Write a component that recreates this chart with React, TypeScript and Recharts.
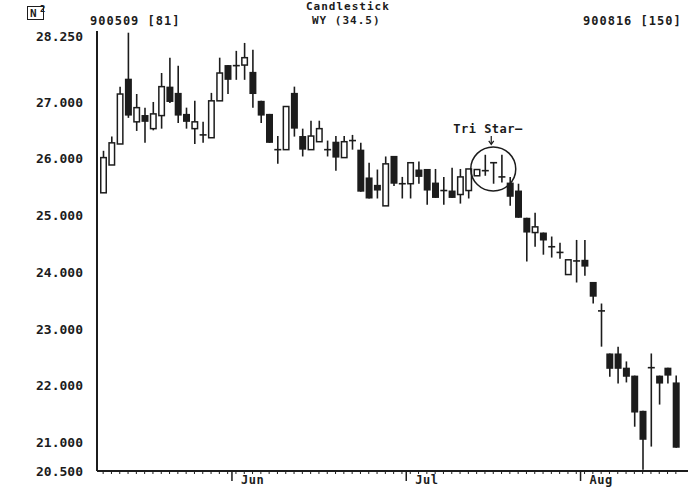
import React from "react";
import { ComposedChart, Bar, XAxis, YAxis, ReferenceDot } from "recharts";

const dates = [
  "900509","900510","900511","900514","900515","900516","900517","900518","900521","900522",
  "900523","900524","900525","900529","900530","900531","900601","900604","900605","900606",
  "900607","900608","900611","900612","900613","900614","900615","900618","900619","900620",
  "900621","900622","900625","900626","900627","900628","900629","900702","900703","900705",
  "900706","900709","900710","900711","900712","900713","900716","900717","900718","900719",
  "900720","900723","900724","900725","900726","900727","900730","900731","900801","900802",
  "900803","900806","900807","900808","900809","900810","900813","900814","900815","900816",
];
const opens = [
  25.40, 25.89, 26.26, 27.41, 26.65, 26.77, 26.53, 26.76, 27.27, 27.16,
  26.79, 26.53, 26.42, 26.37, 27.02, 27.65, 27.64, 27.65, 27.53, 27.02,
  26.79, 26.16, 26.16, 27.16, 26.40, 26.16, 26.30, 26.16, 26.30, 26.02,
  26.32, 26.16, 25.67, 25.54, 25.17, 26.05, 25.56, 25.56, 25.81, 25.82,
  25.58, 25.44, 25.44, 25.37, 25.44, 25.70, 25.79, 25.93, 25.68, 25.58,
  25.44, 24.96, 24.70, 24.70, 24.45, 24.35, 23.96, 24.20, 24.22, 23.83,
  23.32, 22.57, 22.57, 22.32, 22.18, 21.56, 22.32, 22.18, 22.32, 22.06,
];
const highs = [
  26.14, 26.39, 27.27, 28.22, 27.14, 26.90, 27.00, 27.51, 27.78, 27.64,
  26.90, 27.02, 26.65, 27.16, 27.78, 27.65, 27.90, 28.04, 27.92, 27.02,
  26.79, 26.40, 26.92, 27.27, 26.53, 26.67, 26.67, 26.32, 26.40, 26.40,
  26.42, 26.28, 25.93, 25.81, 26.04, 26.05, 25.68, 25.93, 25.95, 25.82,
  25.82, 25.68, 25.84, 25.82, 25.82, 25.81, 26.07, 25.93, 26.07, 25.68,
  25.56, 24.96, 25.05, 24.70, 24.63, 24.52, 24.22, 24.57, 24.57, 23.83,
  23.45, 22.57, 22.69, 22.43, 22.18, 21.56, 22.57, 22.18, 22.32, 22.18,
];
const lows = [
  25.40, 25.89, 26.26, 26.72, 26.49, 26.28, 26.50, 26.53, 26.98, 26.63,
  26.53, 26.26, 26.28, 26.37, 27.02, 27.14, 27.39, 27.39, 26.90, 26.63,
  26.28, 25.91, 26.16, 26.39, 26.04, 26.16, 26.30, 26.04, 25.79, 26.02,
  26.16, 25.42, 25.30, 25.30, 25.17, 25.52, 25.30, 25.30, 25.56, 25.19,
  25.31, 25.19, 25.31, 25.21, 25.30, 25.70, 25.70, 25.56, 25.58, 25.17,
  24.96, 24.19, 24.45, 24.31, 24.26, 24.24, 23.96, 23.82, 23.94, 23.45,
  22.69, 22.16, 22.04, 22.06, 21.28, 20.52, 20.93, 21.67, 22.04, 20.91,
];
const closes = [
  26.02, 26.28, 27.14, 26.76, 26.90, 26.65, 26.79, 27.27, 27.00, 26.76,
  26.65, 26.65, 26.42, 27.02, 27.51, 27.39, 27.64, 27.78, 27.14, 26.76,
  26.28, 26.16, 26.92, 26.53, 26.16, 26.40, 26.53, 26.16, 26.02, 26.30,
  26.32, 25.42, 25.30, 25.44, 25.91, 25.56, 25.56, 25.93, 25.68, 25.44,
  25.31, 25.44, 25.31, 25.68, 25.82, 25.81, 25.79, 25.93, 25.68, 25.33,
  24.96, 24.70, 24.80, 24.56, 24.45, 24.35, 24.22, 24.20, 24.10, 23.57,
  23.32, 22.30, 22.30, 22.16, 21.53, 21.05, 22.32, 22.04, 22.18, 20.91,
];
const yTicks = [20.5, 21, 22, 23, 24, 25, 26, 27, 28.25];
const monthStarts = ["900601", "900702", "900801"];
const monthLabels = ["Jun", "Jul", "Aug"];
const triStarDate = "900717";
const triStarLevel = 25.82;
const triStarText = "Tri Star\u2014";

const data = dates.map((d, i) => ({
  d,
  open: opens[i],
  high: highs[i],
  low: lows[i],
  close: closes[i],
}));

const INK = "#1c1c1c";
const FONT = "'DejaVu Sans Mono', 'Liberation Mono', monospace";

const Candle = (props: any) => {
  const { x, y, width, height, payload } = props;
  if (!payload) return null;
  const top = Math.min(y, y + height);
  const h = Math.abs(height);
  const range = payload.high - payload.low;
  const ratio = range > 0 ? h / range : 0;
  const yO = top + (payload.high - payload.open) * ratio;
  const yC = top + (payload.high - payload.close) * ratio;
  const cx = x + width / 2;
  const bTop = Math.min(yO, yC);
  const bH = Math.abs(yO - yC);
  const up = payload.close > payload.open;
  const down = payload.close < payload.open;
  return (
    <g>
      <line x1={cx} x2={cx} y1={top} y2={top + h} stroke={INK} strokeWidth={1.6} />
      {up && (
        <rect x={x + 0.75} y={bTop} width={width - 1.5} height={bH} fill="#fff" stroke={INK} strokeWidth={1.5} />
      )}
      {down && <rect x={x} y={bTop} width={width} height={Math.max(bH, 1.5)} fill={INK} />}
      {!up && !down && (
        <line x1={x} x2={x + width} y1={yO} y2={yO} stroke={INK} strokeWidth={1.6} />
      )}
    </g>
  );
};

const XTick = (props: any) => {
  const { x, y, payload } = props;
  const idx = monthStarts.indexOf(payload.value);
  return (
    <g>
      <line x1={x} x2={x} y1={y + 1} y2={y + 3} stroke={INK} strokeWidth={1} />
      {idx >= 0 && (
        <g>
          <line x1={x - 4} x2={x - 4} y1={y + 1} y2={y + 10} stroke={INK} strokeWidth={1.5} />
          <text x={x + 5} y={y + 13} fontFamily={FONT} fontWeight="bold" fontSize={12} fill={INK} letterSpacing={0.5}>
            {monthLabels[idx]}
          </text>
        </g>
      )}
    </g>
  );
};

const YTick = (props: any) => {
  const { x, y, payload } = props;
  const v = payload.value as number;
  return (
    <text
      x={x}
      y={y + (v === 28.25 ? 5 : 0)}
      dy="0.35em"
      textAnchor="end"
      fontFamily={FONT}
      fontWeight="bold"
      fontSize={13}
      fill={INK}
    >
      {v.toFixed(3)}
    </text>
  );
};

const TriStar = (props: any) => {
  const { cx, cy } = props;
  return (
    <g>
      <ellipse cx={cx} cy={cy} rx={22.5} ry={22} fill="none" stroke={INK} strokeWidth={1.5} />
      <text x={cx - 40} y={cy - 36} fontFamily={FONT} fontWeight="bold" fontSize={12} fill={INK} letterSpacing={0.5}>
        {triStarText}
      </text>
      <line x1={cx - 2} x2={cx - 2} y1={cy - 33} y2={cy - 25} stroke={INK} strokeWidth={1.2} />
      <path d={`M ${cx - 4.5} ${cy - 28} L ${cx - 2} ${cy - 24.5} L ${cx + 0.5} ${cy - 28}`} fill="none" stroke={INK} strokeWidth={1.2} />
    </g>
  );
};

const headStyle: React.CSSProperties = {
  position: "absolute",
  fontFamily: FONT,
  fontWeight: "bold",
  fontSize: 12,
  color: INK,
  lineHeight: "12px",
  whiteSpace: "nowrap",
  letterSpacing: 1,
};

export default function App() {
  return (
    <div style={{ position: "absolute", left: 0, top: 0, width: 695, height: 487, background: "#fff", overflow: "hidden" }}>
      <div style={{ position: "absolute", left: 27, top: 6, width: 17, height: 14, border: `1.5px solid ${INK}`, boxSizing: "border-box" }} />
      <div style={{ ...headStyle, left: 30, top: 8, fontSize: 11, letterSpacing: 0 }}>N</div>
      <div style={{ ...headStyle, left: 40, top: 3, fontSize: 9, letterSpacing: 0 }}>2</div>
      <div style={{ ...headStyle, left: 90, top: 15 }}>900509 [81]</div>
      <div style={{ ...headStyle, left: 306, top: 1, fontSize: 11, lineHeight: "11px" }}>Candlestick</div>
      <div style={{ ...headStyle, left: 312, top: 15, fontSize: 11, lineHeight: "11px" }}>WY (34.5)</div>
      <div style={{ ...headStyle, left: 583, top: 15 }}>900816 [150]</div>
      <ComposedChart
        width={695}
        height={487}
        data={data}
        margin={{ top: 31, right: 7, bottom: 0, left: 0 }}
        style={{ position: "absolute", left: 0, top: 0 }}
      >
        <XAxis
          dataKey="d"
          type="category"
          interval={0}
          height={16}
          padding={{ left: 2, right: 8 }}
          axisLine={{ stroke: INK, strokeWidth: 2 }}
          tickLine={false}
          tickSize={0}
          tickMargin={0}
          tick={<XTick />}
        />
        <YAxis
          type="number"
          domain={[20.5, 28.25]}
          ticks={yTicks}
          interval={0}
          allowDataOverflow
          width={97}
          axisLine={{ stroke: INK, strokeWidth: 2 }}
          tickLine={false}
          tickSize={0}
          tickMargin={14}
          tick={<YTick />}
        />
        <Bar
          dataKey={(d: any) => [d.low, d.high]}
          barSize={7}
          shape={<Candle />}
          isAnimationActive={false}
        />
        <ReferenceDot x={triStarDate} y={triStarLevel} r={22} shape={<TriStar />} ifOverflow="visible" />
      </ComposedChart>
    </div>
  );
}
